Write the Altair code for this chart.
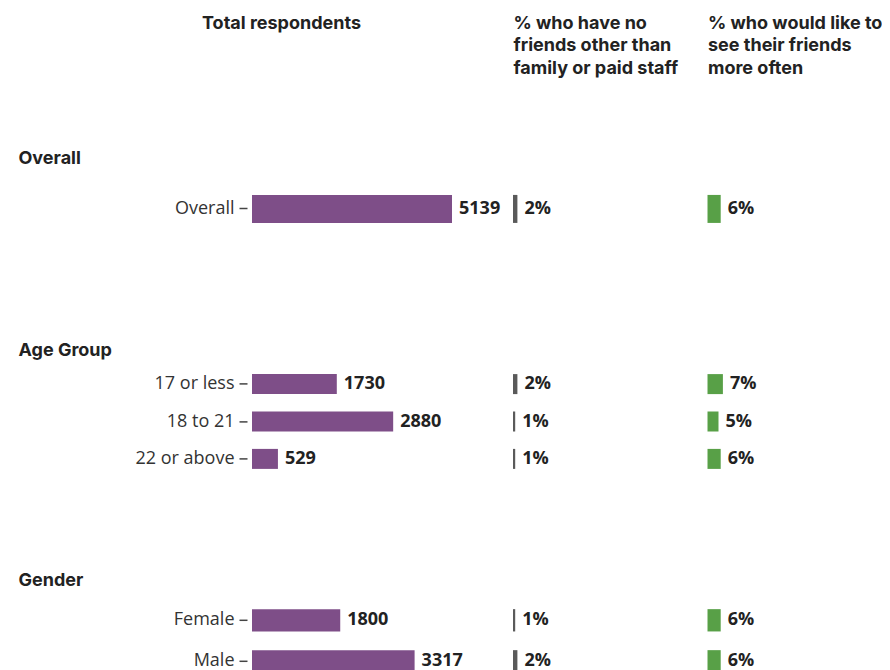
import altair as alt
import pandas as pd

# ---- data ----
sections = ["Overall", "Age Group", "Age Group", "Age Group", "Gender", "Gender"]
categories = ["Overall", "17 or less", "18 to 21", "22 or above", "Female", "Male"]
respondents = [5139, 1730, 2880, 529, 1800, 3317]
pct_no_friends = [2, 2, 1, 1, 1, 2]
pct_see_more = [6, 7, 5, 6, 6, 6]

header_total = "Total respondents"
header_nofriends = ["% who have no", "friends other than", "family or paid staff"]
header_seemore = ["% who would like to", "see their friends", "more often"]

df = pd.DataFrame({
    "section": sections,
    "category": categories,
    "respondents": respondents,
    "no_friends": pct_no_friends,
    "see_more": pct_see_more,
})

PURPLE = "#7e4e88"
GREY = "#5a5a5a"
GREEN = "#58a047"
HEAD_FONT = "Inter"
LABEL_FONT = "Open Sans"
TXT = "#222222"

W = 480


def section(name, step, pad, count_max, title_y, headers=False):
    cats = [c for s, c in zip(sections, categories) if s == name]
    n = len(cats)
    base = alt.Chart(df).transform_filter(alt.datum.section == name).transform_calculate(
        nf_label="datum.no_friends + '%'", sm_label="datum.see_more + '%'"
    )
    y = alt.Y(
        "category:N",
        sort=cats,
        scale=alt.Scale(paddingInner=pad, paddingOuter=pad / 2),
        axis=alt.Axis(
            title=name, titleAngle=0, titleAlign="left", titleBaseline="alphabetic",
            titleX=-229, titleY=title_y, titleFont=HEAD_FONT, titleFontSize=18,
            titleFontWeight="bold", titleColor=TXT,
            labelFont=LABEL_FONT, labelFontSize=18, labelColor="#333333",
            labelPadding=5, ticks=True, tickSize=8, tickWidth=1.5,
            tickColor="#444444", domain=False, grid=False, offset=5,
        ),
    )

    def top_axis(title, tx, align):
        if not headers:
            return None
        return alt.Axis(
            orient="top", title=title, titleX=tx, titleY=-169, titleAlign=align,
            titleBaseline="top", titleFont=HEAD_FONT, titleFontSize=18,
            titleFontWeight="bold", titleColor=TXT, titleLineHeight=22.5,
            labels=False, ticks=False, domain=False, grid=False,
        )

    sc_count = alt.Scale(domain=[0, count_max], range=[0, 200])
    sc_nf = alt.Scale(domain=[0, 100], range=[261, 481])
    sc_sm = alt.Scale(domain=[0, 100], range=[455.5, 675.5])

    ax1 = top_axis(header_total, 29, "center")
    ax2 = top_axis(header_nofriends, 261, "left")
    ax3 = top_axis(header_seemore, 455.5, "left")

    def label(field, scale, text):
        return base.mark_text(align="left", baseline="middle", dx=7, font=LABEL_FONT,
                              fontSize=18, fontWeight="bold", color=TXT).encode(
            x=alt.X(field, scale=scale, axis=None), y=y, text=text)

    bar1 = base.mark_bar(color=PURPLE).encode(
        x=alt.X("respondents:Q", scale=sc_count, axis=ax1), y=y)
    txt1 = label("respondents:Q", sc_count, alt.Text("respondents:Q", format="d"))
    bar2 = base.mark_bar(color=GREY).encode(
        x=alt.X("no_friends:Q", scale=sc_nf, axis=ax2), y=y)
    txt2 = label("no_friends:Q", sc_nf, "nf_label:N")
    bar3 = base.mark_bar(color=GREEN).encode(
        x=alt.X("see_more:Q", scale=sc_sm, axis=ax3), y=y)
    txt3 = label("see_more:Q", sc_sm, "sm_label:N")

    return alt.layer(bar1, txt1, bar2, txt2, bar3, txt3).resolve_scale(
        x="independent").properties(width=W, height=step * n)


overall = section("Overall", 51.85, 0.46, 5139, -19.6, headers=True)
age = section("Age Group", 37.4, 0.465, 4080, -9.8)
gender = section("Gender", 41, 0.456, 4080, -14.3)

chart = alt.vconcat(
    alt.vconcat(overall, age, spacing=106.4),
    gender,
    spacing=92.8,
).properties(
    padding={"left": 10, "top": 6, "right": 0, "bottom": 0}
).configure_view(stroke=None)

chart.save("out.html", embed_options={"renderer": "svg", "actions": False})
